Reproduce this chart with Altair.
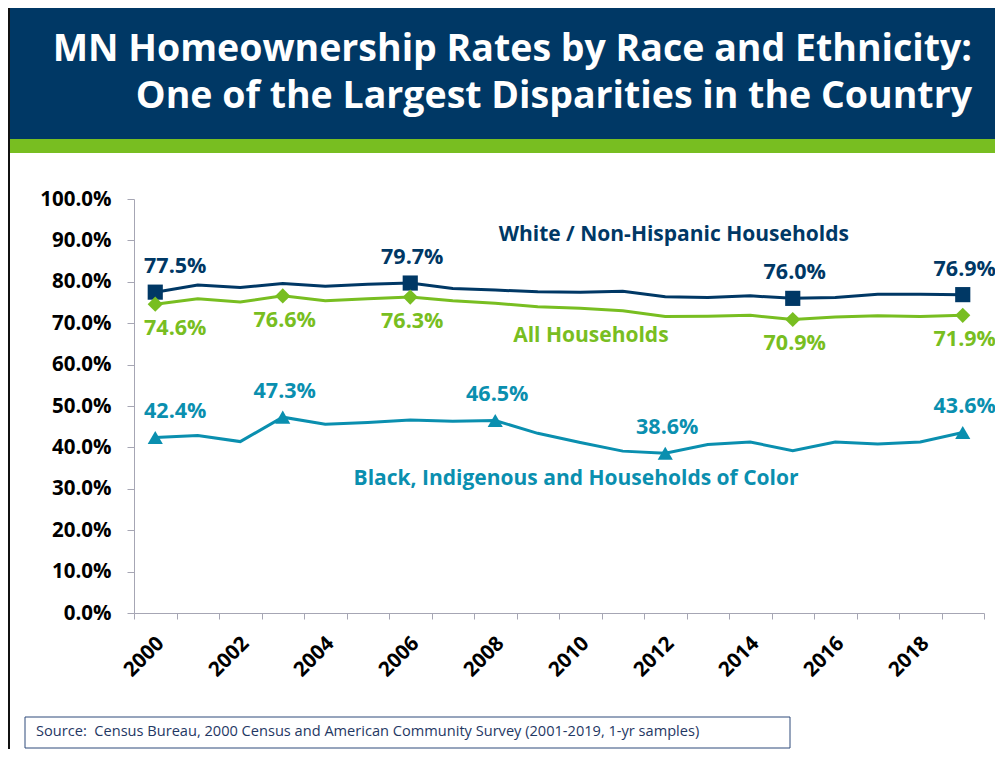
import altair as alt
import pandas as pd

# ---------------- data ----------------
years = list(range(2000, 2020))
white = [77.5, 79.2, 78.6, 79.6, 78.9, 79.4, 79.7, 78.4, 78.0, 77.6,
         77.5, 77.7, 76.4, 76.2, 76.6, 76.0, 76.2, 77.0, 77.0, 76.9]
all_hh = [74.6, 75.9, 75.1, 76.6, 75.4, 75.9, 76.3, 75.4, 74.8, 74.0,
          73.6, 73.0, 71.6, 71.7, 71.9, 70.9, 71.5, 71.8, 71.6, 71.9]
boc = [42.4, 42.9, 41.4, 47.3, 45.6, 46.0, 46.6, 46.3, 46.5, 43.4,
       41.2, 39.1, 38.6, 40.7, 41.3, 39.2, 41.3, 40.8, 41.3, 43.6]

series_names = ["White / Non-Hispanic Households", "All Households",
                "Black, Indigenous and Households of Color"]
series_colors = ["#003865", "#78BE21", "#0A8FAF"]
series_shapes = ["square", "diamond", "triangle-up"]
marked_years = [[2000, 2006, 2015, 2019],
                [2000, 2003, 2006, 2015, 2019],
                [2000, 2003, 2008, 2012, 2019]]
label_dy = [-25, 25, -25]

# series-name annotation anchors (year, value)
name_label_year = [2012.2, 2010.25, 2009.9]
name_label_value = [91.3, 66.9, 32.4]

x_label_years = list(range(2000, 2019, 2))
x_tick_edges = [1999.5 + i for i in range(21)]
y_ticks = list(range(0, 101, 10))

title_lines = ["MN Homeownership Rates by Race and Ethnicity:",
               "One of the Largest Disparities in the Country"]
source_text = "Source:\u00a0 Census Bureau, 2000 Census and American Community Survey (2001-2019, 1-yr samples)"

# ---------------- layout ----------------
W, H = 850, 414
FONT = "Open Sans"

X = alt.X("year:Q", scale=alt.Scale(domain=[1999.5, 2019.5], nice=False, zero=False),
          axis=alt.Axis(values=x_tick_edges, labels=False, title=None, grid=False,
                        tickSize=6, tickColor="#A6A6B4", domainColor="#A6A6B4",
                        domainWidth=1))
Y = alt.Y("value:Q", scale=alt.Scale(domain=[0, 100], nice=False),
          axis=alt.Axis(values=y_ticks, title=None, grid=False,
                        labelExpr="format(datum.value, '.1f') + '%'",
                        labelFont=FONT, labelFontSize=20.5, labelFontWeight="bold",
                        labelColor="#000000", labelPadding=16,
                        tickSize=7, tickColor="#A6A6B4", domainColor="#A6A6B4"))

one = pd.DataFrame({"a": [0]})

layers = []

# header band
layers.append(alt.Chart(one).mark_rect(color="#003865").encode(
    x=alt.value(-124), x2=alt.value(870), y=alt.value(-191), y2=alt.value(-60)))
layers.append(alt.Chart(one).mark_rect(color="#78BE21").encode(
    x=alt.value(-124), x2=alt.value(870), y=alt.value(-60), y2=alt.value(-46)))
layers.append(alt.Chart(one).mark_rect(color="#111111").encode(
    x=alt.value(-126), x2=alt.value(-124), y=alt.value(-191), y2=alt.value(560)))
for i, line in enumerate(title_lines):
    layers.append(alt.Chart(one).mark_text(
        align="right", baseline="middle", font=FONT, fontSize=37.5,
        fontWeight="bold", color="white").encode(
        x=alt.value(838), y=alt.value(-149 + 47 * i), text=alt.value(line)))

# source box
layers.append(alt.Chart(one).mark_rect(fill="white", stroke="#2E4A7A", strokeWidth=1).encode(
    x=alt.value(-109), x2=alt.value(656), y=alt.value(518), y2=alt.value(549)))
layers.append(alt.Chart(one).mark_text(
    align="left", baseline="middle", font=FONT, fontSize=14.6, color="#1F3864").encode(
    x=alt.value(-98), y=alt.value(533), text=alt.value(source_text)))

# lines, markers, labels
for name, vals, color, shape, marks, dy in zip(series_names, [white, all_hh, boc],
                                               series_colors, series_shapes,
                                               marked_years, label_dy):
    df = pd.DataFrame({"year": years, "value": vals})
    dm = df[df["year"].isin(marks)].copy()
    dm["label"] = [f"{v:.1f}%" for v in dm["value"]]
    layers.append(alt.Chart(df).mark_line(color=color, strokeWidth=3).encode(x=X, y=Y))
    layers.append(alt.Chart(dm).mark_point(shape=shape, filled=True, opacity=1,
                                           color=color, size=230).encode(x=X, y=Y))
    base = alt.Chart(dm)
    layers.append(base.transform_filter("datum.year == 2000").mark_text(
        font=FONT, fontSize=21.5, fontWeight="bold", color=color, dy=dy, dx=20,
        baseline="middle").encode(x=X, y=Y, text="label:N"))
    layers.append(base.transform_filter("datum.year != 2000").mark_text(
        font=FONT, fontSize=21.5, fontWeight="bold", color=color, dy=dy, dx=2,
        baseline="middle").encode(x=X, y=Y, text="label:N"))

# series names
for name, color, yr, v in zip(series_names, series_colors, name_label_year, name_label_value):
    dn = pd.DataFrame({"year": [yr], "value": [v], "name": [name]})
    layers.append(alt.Chart(dn).mark_text(
        font=FONT, fontSize=21, fontWeight="bold", color=color,
        baseline="middle").encode(x=X, y=Y, text="name:N"))

# x labels (rotated)
dl = pd.DataFrame({"year": x_label_years, "txt": [str(y) for y in x_label_years]})
layers.append(alt.Chart(dl).mark_text(
    font=FONT, fontSize=20.5, fontWeight="bold", color="#000000", angle=315,
    align="right", baseline="middle", dx=8).encode(
    x=X, y=alt.value(H + 33), text="txt:N"))

chart = alt.layer(*layers).properties(
    width=W, height=H,
    autosize=alt.AutoSizeParams(type="none"),
    padding={"left": 126, "top": 191, "right": 11, "bottom": 136},
    background="white",
).configure_view(stroke=None)

chart.save("out.html", embed_options={"renderer": "svg", "actions": False})
